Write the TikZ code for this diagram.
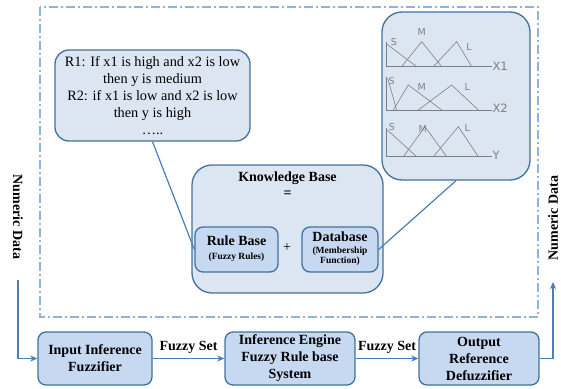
\documentclass[tikz,border=0pt]{standalone}
\usepackage{fontspec}
\setmainfont{Liberation Serif}[BoldFont={Liberation Serif Bold}, ItalicFont={Liberation Serif Italic}]
\newfontfamily\mfsans{DejaVu Sans}
\usetikzlibrary{arrows.meta}
\definecolor{bordc}{HTML}{41719C}
\definecolor{lightf}{HTML}{DCE6F2}
\definecolor{midf}{HTML}{C6D9F1}
\definecolor{linec}{HTML}{4A7EBB}
\definecolor{dashc}{HTML}{8DB3E2}
\definecolor{grayc}{HTML}{7F7F7F}
\newcommand{\smallfs}{\fontsize{9.5}{10.5}\selectfont}
\newcommand{\smalllines}[1]{{\smallfs\begin{tabular}{@{}c@{}}#1\end{tabular}}}
\begin{document}
\begin{tikzpicture}[x=1pt,y=-1pt,
  lightbox/.style={draw=bordc, line width=1.3pt, fill=lightf, rounded corners=#1, inner sep=0pt, align=center},
  lightbox/.default=14pt,
  midbox/.style={draw=bordc, line width=1.3pt, fill=midf, rounded corners=8pt, inner sep=0pt, align=center,
    font=\fontsize{14}{17}\selectfont\bfseries},
  conn/.style={draw=linec, line width=1.2pt},
  arr/.style={conn, -{Stealth[length=7pt,width=6pt,inset=2pt]}},
  bold14/.style={font=\fontsize{14}{17}\selectfont\bfseries, inner sep=0pt, align=center},
  mfline/.style={draw=grayc, line width=0.6pt},
  mflab/.style={text=grayc, font=\mfsans\fontsize{9.5}{10}\selectfont, inner sep=0pt},
  mfaxis/.style={text=grayc, font=\mfsans\fontsize{11.5}{12}\selectfont, inner sep=0pt, anchor=west}
]
\useasboundingbox (0,0) rectangle (561,388);
% outer dash-dot frame
\draw[dashc, line width=1.2pt, dash pattern=on 9pt off 3pt on 2pt off 3pt] (40,7) rectangle (538,317);

% rules box
\node[lightbox, minimum width=195pt, minimum height=91pt,
  font=\fontsize{14.3}{17}\selectfont] (rules) at (152.5,95.5)
  {R1: If x1 is high and x2 is low\\ then y is medium\\ R2: if x1 is low and x2 is low\\ then y is high\\ …..};

% membership function box
\node[lightbox=20pt, minimum width=148pt, minimum height=168pt] (mf) at (456,96) {};
\begin{scope}[shift={(370,20)}, x=1pt/3, y=-1pt/3]
  % X1
  \draw[mfline] (50,65) -- (50,140) -- (365,140);
  \draw[mfline] (50,72) -- (140,140);
  \draw[mfline] (95,140) -- (155,65) -- (215,140);
  \draw[mfline] (190,140) -- (260,65) -- (305,140);
  \node[mflab] (s1) at (72,66) {S};
  \node[mflab] (m1) at (155,36) {M};
  \node[mflab] (l1) at (297,80) {L};
  \node[mfaxis] (x1) at (367,138) {X1};
  % X2
  \draw[mfline] (50,170) -- (50,270) -- (365,270);
  \draw[mfline] (53,175) -- (80,270);
  \draw[mfline] (70,270) -- (115,195) -- (215,270);
  \draw[mfline] (145,270) -- (245,195) -- (325,270);
  \node[mflab] (s2) at (65,183) {S};
  \node[mflab] (m2) at (155,200) {M};
  \node[mflab] (l2) at (292,200) {L};
  \node[mfaxis] (x2) at (367,266) {X2};
  % Y
  \draw[mfline] (50,325) -- (50,410) -- (365,410);
  \draw[mfline] (52,330) -- (140,410);
  \draw[mfline] (100,410) -- (165,320) -- (230,410);
  \draw[mfline] (190,410) -- (265,320) -- (325,410);
  \node[mflab] (s3) at (66,322) {S};
  \node[mflab] (m3) at (158,328) {M};
  \node[mflab] (l3) at (292,325) {L};
  \node[mfaxis] (y3) at (367,405) {Y};
\end{scope}

% knowledge base
\node[lightbox=20pt, minimum width=191pt, minimum height=128pt] (kb) at (287.5,229) {};
\node[bold14] (kbt) at (287.5,178) {Knowledge Base};
\node[bold14] (kbeq) at (287.5,194) {=};
\node[midbox, minimum width=83pt, minimum height=45pt] (rb) at (236.5,249.5)
  {Rule Base\\[-3pt]\smalllines{(Fuzzy Rules)}};
\node[font=\fontsize{14}{17}\selectfont, inner sep=0pt] (plus) at (287,248) {+};
\node[midbox, minimum width=76pt, minimum height=45pt] (db) at (340,249.5)
  {Database\\[0pt]\smalllines{(Membership\\ Function)}};

\draw[conn] (rules.south) -- (rb.west);
\draw[conn] (db.east) -- (mf.south);

% bottom row
\node[midbox, minimum width=114pt, minimum height=53pt] (fuzz) at (95,358.5) {Input Inference\\ Fuzzifier};
\node[midbox, minimum width=130pt, minimum height=53pt] (eng) at (290,358.5) {Inference Engine\\ Fuzzy Rule base\\ System};
\node[midbox, minimum width=120pt, minimum height=53pt] (outp) at (479,358.5) {Output\\ Reference\\ Defuzzifier};

\draw[arr] (fuzz.east) -- node[bold14, above=4pt] (fs1) {Fuzzy Set} (eng.west);
\draw[arr] (eng.east) -- node[bold14, above=4pt] (fs2) {Fuzzy Set} (outp.west);

% numeric data in/out
\node[bold14, rotate=-90] (numin) at (18,217) {Numeric Data};
\coordinate (inStart) at (18,280);
\draw[arr] (inStart) |- (fuzz.west);
\node[bold14, rotate=90] (numout) at (553,218) {Numeric Data};
\coordinate (outEnd) at (553,282);
\draw[arr] (outp.east) -| (outEnd);
\end{tikzpicture}
\end{document}
